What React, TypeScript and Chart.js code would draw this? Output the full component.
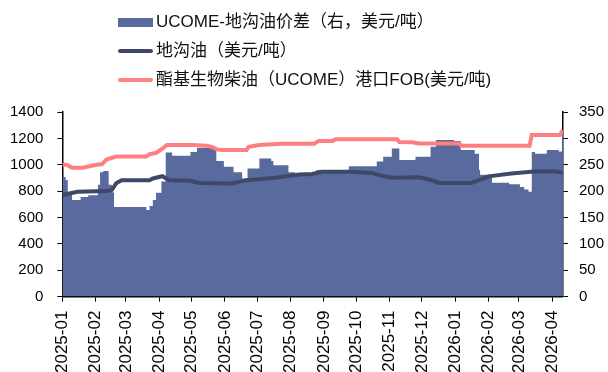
import React, { useEffect, useRef } from "react";
import { Chart, registerables } from "chart.js";

Chart.register(...registerables);

// UCOME - gutter oil spread (right axis, USD/t), value holds from date until next date
const spreadDates = [
  "2025-01-01", "2025-01-04", "2025-01-06", "2025-01-10", "2025-01-18", "2025-01-25",
  "2025-02-03", "2025-02-05", "2025-02-08", "2025-02-13", "2025-02-16", "2025-02-18",
  "2025-03-20", "2025-03-23", "2025-03-26", "2025-03-29", "2025-04-03", "2025-04-07",
  "2025-04-13", "2025-04-30", "2025-05-06", "2025-05-22", "2025-05-24", "2025-05-31",
  "2025-06-09", "2025-06-17", "2025-06-22", "2025-07-03", "2025-07-14", "2025-07-16",
  "2025-07-30", "2025-08-05", "2025-08-25", "2025-09-24", "2025-10-20", "2025-10-26",
  "2025-11-03", "2025-11-10", "2025-11-25", "2025-12-09", "2025-12-14", "2025-12-31",
  "2026-01-06", "2026-01-19", "2026-01-23", "2026-01-24", "2026-02-04", "2026-02-20",
  "2026-03-02", "2026-03-06", "2026-03-10", "2026-03-13", "2026-03-16", "2026-03-27",
  "2026-04-07", "2026-04-10", "2026-04-11",
];
const spreadValues = [
  227, 221, 195, 183, 189, 192,
  212, 236, 238, 212, 198, 170,
  164, 172, 183, 197, 218, 273,
  267, 274, 282, 278, 257, 246,
  236, 224, 243, 262, 257, 249,
  236, 234, 240, 247, 256, 265,
  281, 259, 265, 284, 297, 295,
  278, 271, 240, 231, 216, 213,
  208, 203, 199, 274, 271, 278,
  275, 310, 310,
];

// Gutter oil price (left axis, USD/t)
const gutterOilDates = [
  "2025-01-01", "2025-01-15", "2025-02-11", "2025-02-16", "2025-02-20", "2025-02-25",
  "2025-03-23", "2025-03-26", "2025-04-04", "2025-04-10", "2025-04-29", "2025-05-08",
  "2025-06-08", "2025-06-21", "2025-07-18", "2025-08-09", "2025-08-21", "2025-08-30",
  "2025-09-24", "2025-10-16", "2025-10-22", "2025-11-03", "2025-11-28", "2025-12-07",
  "2025-12-17", "2026-01-16", "2026-02-01", "2026-02-22", "2026-03-15", "2026-04-03",
  "2026-04-11",
];
const gutterOilValues = [
  770, 795, 800, 808, 860, 883,
  883, 896, 913, 883, 880, 862,
  858, 883, 901, 926, 930, 946,
  946, 938, 921, 901, 905, 890,
  862, 862, 912, 934, 948, 950,
  940,
];

// UCOME port FOB price (left axis, USD/t)
const ucomeDates = [
  "2025-01-01", "2025-01-05", "2025-01-10", "2025-01-20", "2025-01-27", "2025-02-02",
  "2025-02-07", "2025-02-11", "2025-02-20", "2025-03-20", "2025-03-23", "2025-03-29",
  "2025-04-04", "2025-04-08", "2025-05-02", "2025-05-15", "2025-05-20", "2025-05-25",
  "2025-05-31", "2025-06-21", "2025-06-23", "2025-07-03", "2025-07-24", "2025-08-23",
  "2025-08-27", "2025-09-09", "2025-09-12", "2025-11-08", "2025-11-10", "2025-11-22",
  "2025-11-28", "2026-01-04", "2026-01-07", "2026-03-11", "2026-03-13", "2026-04-08",
  "2026-04-11",
];
const ucomeValues = [
  1000, 1000, 977, 977, 990, 1000,
  1005, 1040, 1062, 1062, 1080, 1090,
  1123, 1150, 1150, 1145, 1135, 1115,
  1111, 1111, 1136, 1150, 1160, 1160,
  1181, 1181, 1194, 1194, 1173, 1170,
  1161, 1161, 1145, 1145, 1226, 1226,
  1262,
];

const monthLabels = [
  "2025-01", "2025-02", "2025-03", "2025-04", "2025-05", "2025-06", "2025-07", "2025-08",
  "2025-09", "2025-10", "2025-11", "2025-12", "2026-01", "2026-02", "2026-03", "2026-04",
];
const endDate = "2026-04-11";

const seriesNames = [
  "UCOME-地沟油价差（右，美元/吨）",
  "地沟油（美元/吨）",
  "酯基生物柴油（UCOME）港口FOB(美元/吨)",
];

const AREA_COLOR = "#596B9E";
const DARK_COLOR = "#3F4866";
const PINK_COLOR = "#FF7F80";
const FONT = '"Liberation Sans", Arial, "Noto Sans CJK SC", sans-serif';

const CANVAS_LEFT = -20;
const CANVAS_W = 640;
const CANVAS_H = 382;

const START = Date.UTC(2025, 0, 1);
const dayOf = (s: string) => {
  const p = s.split("-").map(Number);
  return (Date.UTC(p[0], p[1] - 1, p[2] ?? 1) - START) / 86400000;
};
const toPoints = (dates: string[], values: number[]) =>
  dates.map((d, i) => ({ x: dayOf(d), y: values[i] }));

export default function App() {
  const ref = useRef<HTMLCanvasElement | null>(null);

  useEffect(() => {
    if (!ref.current) return;
    const monthDays = monthLabels.map((m) => dayOf(m + "-01"));
    const chart = new Chart(ref.current, {
      type: "line",
      data: {
        datasets: [
          {
            label: seriesNames[2],
            data: toPoints(ucomeDates, ucomeValues),
            borderColor: PINK_COLOR,
            borderWidth: 4,
            pointRadius: 0,
            fill: false,
            yAxisID: "y",
            order: 1,
          },
          {
            label: seriesNames[1],
            data: toPoints(gutterOilDates, gutterOilValues),
            borderColor: DARK_COLOR,
            borderWidth: 4,
            pointRadius: 0,
            fill: false,
            yAxisID: "y",
            order: 2,
          },
          {
            label: seriesNames[0],
            data: toPoints(spreadDates, spreadValues),
            borderColor: AREA_COLOR,
            backgroundColor: AREA_COLOR,
            borderWidth: 0,
            pointRadius: 0,
            fill: "origin",
            stepped: true,
            yAxisID: "y1",
            order: 3,
          },
        ],
      },
      options: {
        responsive: false,
        animation: false,
        layout: { padding: { left: 16, right: 5, top: 112, bottom: 0 } },
        plugins: { legend: { display: false }, tooltip: { enabled: false } },
        scales: {
          x: {
            type: "linear",
            min: 0,
            max: dayOf(endDate),
            afterBuildTicks: (axis: any) => {
              axis.ticks = monthDays.map((v) => ({ value: v }));
            },
            ticks: {
              autoSkip: false,
              minRotation: 90,
              maxRotation: 90,
              padding: 9,
              color: "#000",
              font: { family: FONT, size: 17 },
              callback: (value: any) => {
                const i = monthDays.indexOf(Number(value));
                return i >= 0 ? monthLabels[i] : "";
              },
            },
            grid: { display: true, drawOnChartArea: false, drawTicks: true, tickLength: 5, color: "#000" },
            border: { display: true, color: "#000", width: 1.5 },
          },
          y: {
            position: "left",
            min: 0,
            max: 1400,
            ticks: {
              stepSize: 200,
              padding: 14,
              color: "#000",
              font: { family: FONT, size: 15 },
              callback: (v: any) => String(v),
            },
            grid: { display: true, drawOnChartArea: false, drawTicks: true, tickLength: 5, color: "#000" },
            border: { display: true, color: "#000", width: 1.5 },
          },
          y1: {
            position: "right",
            min: 0,
            max: 350,
            ticks: {
              stepSize: 50,
              padding: 11,
              color: "#000",
              font: { family: FONT, size: 15 },
              callback: (v: any) => String(v),
            },
            grid: { display: true, drawOnChartArea: false, drawTicks: true, tickLength: 5, color: "#000" },
            border: { display: true, color: "#000", width: 1.5 },
          },
        },
      },
    });
    return () => chart.destroy();
  }, []);

  const legendRows = [
    { name: seriesNames[0], color: AREA_COLOR, h: 9, y: 22 },
    { name: seriesNames[1], color: DARK_COLOR, h: 4, y: 51 },
    { name: seriesNames[2], color: PINK_COLOR, h: 4, y: 80 },
  ];

  return (
    <div style={{ position: "absolute", left: 0, top: 0, width: 608, height: 372, background: "#fff", overflow: "hidden" }}>
      <canvas
        ref={ref}
        width={CANVAS_W}
        height={CANVAS_H}
        style={{ position: "absolute", left: CANVAS_LEFT, top: 0, width: CANVAS_W, height: CANVAS_H }}
      />
      {legendRows.map((r, i) => (
        <React.Fragment key={i}>
          <div
            style={{
              position: "absolute",
              left: 118,
              top: r.y - r.h / 2,
              width: 35,
              height: r.h,
              background: r.color,
              borderRadius: r.h < 6 ? 2 : 0,
            }}
          />
          <div
            style={{
              position: "absolute",
              left: 156,
              top: r.y - 11,
              height: 22,
              lineHeight: "22px",
              fontSize: 17,
              fontFamily: FONT,
              color: "#111",
              whiteSpace: "nowrap",
            }}
          >
            {r.name}
          </div>
        </React.Fragment>
      ))}
    </div>
  );
}
